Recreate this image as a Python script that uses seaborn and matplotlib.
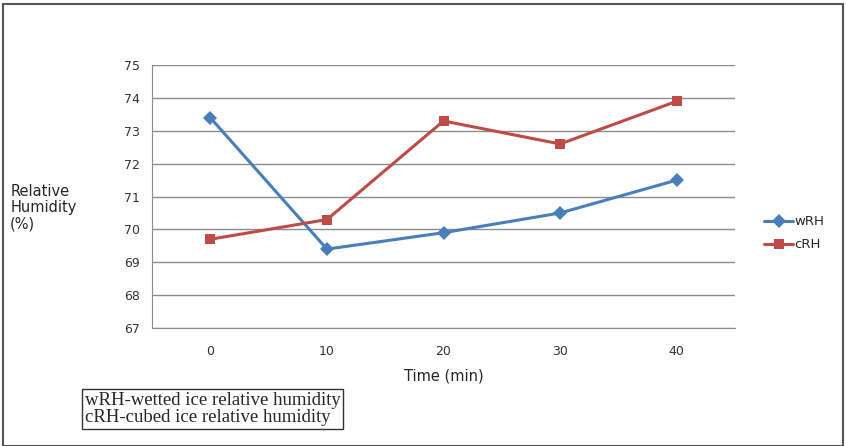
import numpy as np
import pandas as pd
import matplotlib
matplotlib.use("Agg")
import matplotlib.pyplot as plt
from matplotlib.patches import Rectangle
import seaborn as sns

times = ["0", "10", "20", "30", "40"]
wrh = [73.4, 69.4, 69.9, 70.5, 71.5]
crh = [69.7, 70.3, 73.3, 72.6, 73.9]

df = pd.DataFrame({
    "Time": times * 2,
    "RH": wrh + crh,
    "Series": ["wRH"] * len(times) + ["cRH"] * len(times),
})

sns.set_style("white")
plt.rcParams["font.family"] = ["DejaVu Sans"]

fig = plt.figure(figsize=(8.46, 4.46), dpi=100)
ax = fig.add_axes([0.1797, 0.2646, 0.6891, 0.5894])

sns.lineplot(data=df, x="Time", y="RH", hue="Series", style="Series",
             palette={"wRH": "#4A7EBB", "cRH": "#BE4B48"},
             markers={"wRH": "D", "cRH": "s"}, dashes=False,
             markersize=7.5, linewidth=2.2, markeredgewidth=0, ax=ax)

ax.set_ylim(67, 75)
ax.set_xlim(-0.5, len(times) - 0.5)
ax.set_yticks(range(67, 76))
ax.yaxis.grid(True, color="#8c8c8c", linewidth=1)
ax.set_axisbelow(True)
ax.set_xticks(range(len(times)))
ax.set_xticklabels(times)
ax.set_xticks(np.arange(-0.5, len(times)), minor=True)
ax.tick_params(axis="x", which="major", length=0, pad=12, labelsize=9, colors="#333333")
ax.tick_params(axis="x", which="minor", length=5, color="#8c8c8c", direction="out")
ax.tick_params(axis="y", length=5, color="#8c8c8c", direction="out", labelsize=9, colors="#333333")
for s in ["top", "right"]:
    ax.spines[s].set_visible(False)
for s in ["left", "bottom"]:
    ax.spines[s].set_color("#8c8c8c")
ax.set_xlabel("Time (min)", fontsize=10.5, labelpad=8)
ax.set_ylabel("")

fig.text(0.012, 0.535, "Relative\nHumidity\n(%)", fontsize=10.5, ha="left", va="center",
         linespacing=1.1)

handles, labels = ax.get_legend_handles_labels()
ax.legend(handles, labels, loc="center left", bbox_to_anchor=(1.03, 0.36),
          frameon=False, fontsize=9.5, handlelength=2.2, labelspacing=0.75,
          handletextpad=0.1)

fig.text(0.1, 0.083, "wRH-wetted ice relative humidity\ncRH-cubed ice relative humidity",
         family=["Liberation Serif"], fontsize=13.5, ha="left", va="center", linespacing=1.0,
         bbox=dict(boxstyle="square,pad=0.15", facecolor="white", edgecolor="#333333", linewidth=1))

fig.patches.append(Rectangle((0.004, 0.0), 0.992, 0.992, transform=fig.transFigure,
                             fill=False, edgecolor="#555555", linewidth=1.5))

fig.savefig("out.png", dpi=100)
